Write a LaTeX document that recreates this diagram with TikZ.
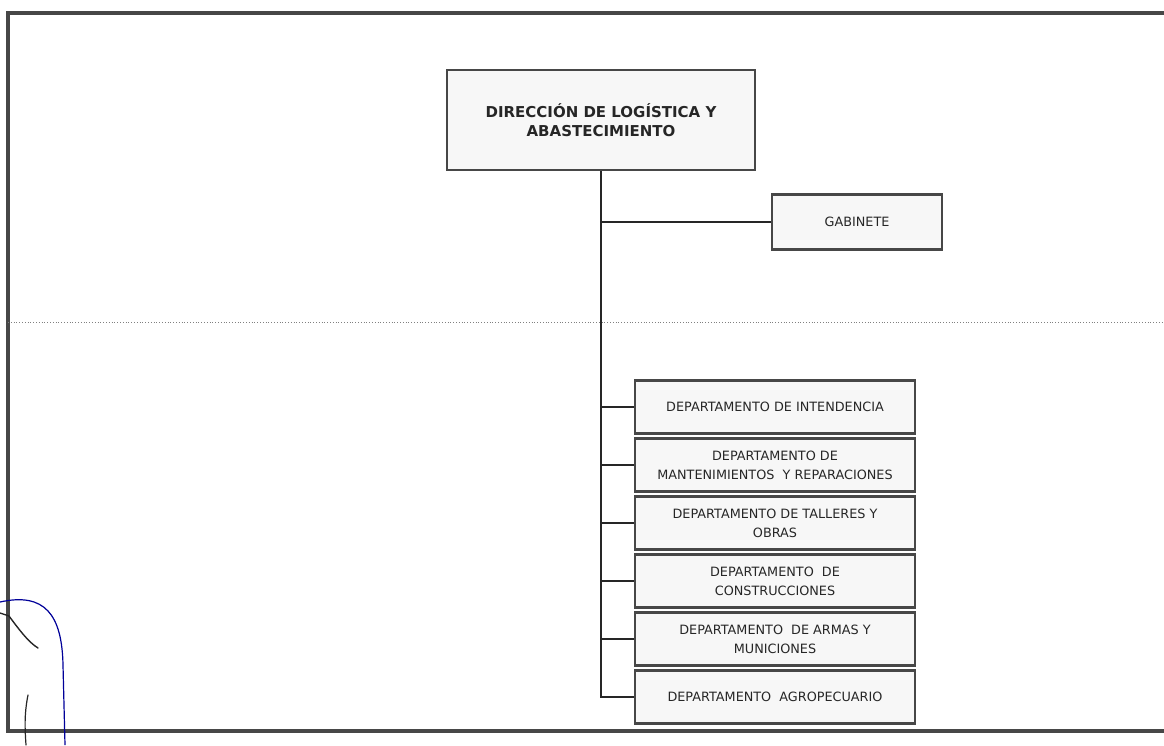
\documentclass[tikz,border=0pt]{standalone}
\usepackage{fontspec}
\setmainfont{DejaVu Sans}
\usetikzlibrary{positioning}
\colorlet{framegray}{black!72}
\colorlet{boxline}{black!72}
\colorlet{penblue}{blue!60!black}

\begin{document}
\begin{tikzpicture}[x=1pt, y=-1pt,
    unitbox/.style={draw=boxline, line width=2.2pt, fill=black!3, align=center, inner sep=2pt, text=black!85},
    deptbox/.style={unitbox, minimum width=280pt, minimum height=53pt, font=\fontsize{12.8}{19}\selectfont},
    link/.style={draw=black!85, line width=1.3pt}]
  \useasboundingbox (0,0) rectangle (1164,745);
  % page frame and fold
  \draw[framegray, line width=3.2pt] (1164,13) -- (8,13) -- (8,731) -- (1164,731);
  \draw[black!50, line width=0.8pt, dotted] (8,322) -- (1164,322);
  % units
  \node[unitbox, minimum width=308pt, minimum height=100pt, font=\bfseries\fontsize{15}{19}\selectfont] (dir) at (601,120) {DIRECCIÓN DE LOGÍSTICA Y\\ABASTECIMIENTO};
  \node[unitbox, minimum width=170pt, minimum height=55pt, font=\fontsize{12.8}{19}\selectfont] (gab) at (857,222) {GABINETE};
  \foreach \name/\txt [count=\i] in {dint/{DEPARTAMENTO DE INTENDENCIA},
      dman/{DEPARTAMENTO DE\\MANTENIMIENTOS \ Y REPARACIONES},
      dtal/{DEPARTAMENTO DE TALLERES Y\\OBRAS},
      dcon/{DEPARTAMENTO \ DE\\CONSTRUCCIONES},
      darm/{DEPARTAMENTO \ DE ARMAS Y\\MUNICIONES},
      dagr/{DEPARTAMENTO \ AGROPECUARIO}}
    \node[deptbox] (\name) at (775,{349+58*\i}) {\txt};
  % connectors
  \draw[link] (dir.south) -- (dir.south |- dagr.west) -- (dagr.west);
  \foreach \name in {gab,dint,dman,dtal,dcon,darm}
    \draw[link] (dir.south |- \name.west) -- (\name.west);
  % pen marks
  \draw[penblue, line width=1.2pt] (0,602) .. controls (45,592) and (62,615) .. (63,665) -- (65,745);
  \draw[black!85, line width=1.4pt, line cap=round] (0,613) -- (9,616) .. controls (18,628) and (28,642) .. (38,648);
  \draw[black!85, line width=1.2pt, line cap=round] (28,695) .. controls (24,715) and (25,730) .. (26,745);
\end{tikzpicture}
\end{document}
